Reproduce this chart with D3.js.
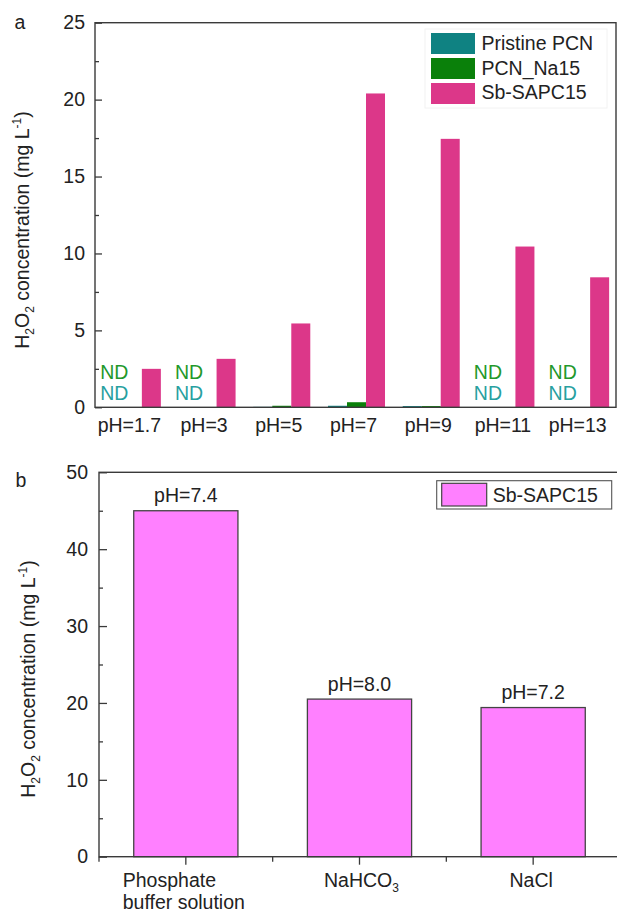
<!DOCTYPE html>
<html>
<head>
<meta charset="utf-8">
<script src="https://cdn.jsdelivr.net/npm/d3@7"></script>
<style>
  html, body { margin: 0; padding: 0; background: #fff; }
  svg { display: block; }
  text { font-family: "Liberation Sans", Arial, sans-serif; fill: #222; }
</style>
</head>
<body>
<svg id="chart" width="617" height="915"></svg>
<script>
// ---- Panel a: H2O2 yield at different pH ----
const phLabels = ["pH=1.7", "pH=3", "pH=5", "pH=7", "pH=9", "pH=11", "pH=13"];
const seriesNames = ["Pristine PCN", "PCN_Na15", "Sb-SAPC15"];
// null = not detected (ND)
const pristinePCN = [null, null, 0.03, 0.1, 0.08, null, null];
const pcnNa15 = [null, null, 0.1, 0.33, 0.08, null, null];
const sbSAPC15 = [2.5, 3.15, 5.45, 20.4, 17.45, 10.45, 8.45];
const yTicksA = [0, 5, 10, 15, 20, 25];
const yMinorA = [2.5, 7.5, 12.5, 17.5, 22.5];

// ---- Panel b: H2O2 yield in different media ----
const media = ["Phosphate buffer solution", "NaHCO3", "NaCl"];
const mediaPH = ["pH=7.4", "pH=8.0", "pH=7.2"];
const sbSAPC15Media = [45.0, 20.5, 19.4];
const yTicksB = [0, 10, 20, 30, 40, 50];
const yMinorB = [5, 15, 25, 35, 45];

const colorsA = ["#0f8282", "#0a800a", "#dc3789"];
const ndColors = ["#27a0a0", "#22982a"];
const fillB = "#ff80ff";
const axisColor = "#3a3a3a";
const FS = 19.5;

const svg = d3.select("#chart");

function yTitle(g, x, cy) {
  const t = g.append("text")
    .attr("transform", `translate(${x},${cy}) rotate(-90)`)
    .attr("text-anchor", "middle")
    .style("font-size", FS + "px");
  t.append("tspan").text("H");
  t.append("tspan").text("2").style("font-size", "12px").attr("dy", 5);
  t.append("tspan").text("O").attr("dy", -5);
  t.append("tspan").text("2").style("font-size", "12px").attr("dy", 5);
  t.append("tspan").text(" concentration (mg L").attr("dy", -5);
  t.append("tspan").text("-1").style("font-size", "12px").attr("dy", -8);
  t.append("tspan").text(")").attr("dy", 8);
}

function styleAxis(g) {
  g.select(".domain").remove();
  g.selectAll("line").attr("stroke", axisColor).attr("stroke-width", 1.3);
  g.selectAll("text").style("font-size", FS + "px").attr("fill", "#222");
}

// ================= Panel a =================
{
  const L = 95, R = 616, T = 22.7, B = 407.3;
  const g = svg.append("g");
  const x0 = d3.scaleBand().domain(phLabels).range([L, 618]).paddingInner(0.237).paddingOuter(0.1185);
  const x1 = d3.scaleBand().domain(seriesNames).range([0, x0.bandwidth()]);
  const y = d3.scaleLinear().domain([0, 25]).range([B, T]);

  const seriesVals = [pristinePCN, pcnNa15, sbSAPC15];

  // bars
  seriesNames.forEach((s, si) => {
    g.append("g").selectAll("rect")
      .data(phLabels.map((p, i) => ({ p, v: seriesVals[si][i] })).filter(d => d.v !== null))
      .join("rect")
      .attr("x", d => x0(d.p) + x1(s))
      .attr("width", x1.bandwidth())
      .attr("y", d => y(d.v))
      .attr("height", d => Math.max(0, y(0) - y(d.v)))
      .attr("fill", colorsA[si]);
  });

  // ND labels for undetected series (teal below, green above)
  phLabels.forEach((p, i) => {
    if (pristinePCN[i] === null) {
      const cx = x0(p) + x1(seriesNames[0]) + x1.bandwidth() / 2 + 1;
      g.append("text").attr("x", cx).attr("y", y(0) - 7.5).attr("text-anchor", "middle")
        .style("font-size", FS + "px").style("fill", ndColors[0]).text("ND");
    }
    if (pcnNa15[i] === null) {
      const cx = x0(p) + x1(seriesNames[0]) + x1.bandwidth() / 2 + 1;
      g.append("text").attr("x", cx).attr("y", y(0) - 28.5).attr("text-anchor", "middle")
        .style("font-size", FS + "px").style("fill", ndColors[1]).text("ND");
    }
  });

  // frame
  g.append("rect").attr("x", L).attr("y", T).attr("width", R - L).attr("height", B - T)
    .attr("fill", "none").attr("stroke", axisColor).attr("stroke-width", 1.4);

  // y axis
  const ya = g.append("g").attr("transform", `translate(${L},0)`)
    .call(d3.axisLeft(y).tickValues(yTicksA).tickSize(-7).tickPadding(10).tickFormat(d3.format("d")));
  styleAxis(ya);
  const ym = g.append("g").attr("transform", `translate(${L},0)`)
    .call(d3.axisLeft(y).tickValues(yMinorA).tickSize(-4).tickFormat(""));
  styleAxis(ym);

  // x labels
  g.append("g").selectAll("text").data(phLabels).join("text")
    .attr("x", d => x0(d) + x0.bandwidth() / 2 - 3)
    .attr("y", 432)
    .attr("text-anchor", "middle")
    .style("font-size", FS + "px")
    .text(d => d);

  yTitle(g, 28.5, 230);

  g.append("text").attr("x", 14.5).attr("y", 29).style("font-size", FS + "px").text("a");

  // legend
  const lg = g.append("g");
  lg.append("rect").attr("x", 425).attr("y", 29).attr("width", 182).attr("height", 79)
    .attr("fill", "#fff").attr("stroke", "#f2f2f2");
  seriesNames.forEach((s, i) => {
    lg.append("rect").attr("x", 431).attr("y", 33 + i * 25).attr("width", 44).attr("height", 21)
      .attr("fill", colorsA[i]);
    lg.append("text").attr("x", 481.5).attr("y", 50 + i * 24.6)
      .style("font-size", FS + "px").text(s);
  });
}

// ================= Panel b =================
{
  const L = 99, R = 620, T = 472.3, B = 856.7;
  const g = svg.append("g");
  const x = d3.scaleBand().domain(media).range([L, R]).paddingInner(0.4).paddingOuter(0.2);
  const y = d3.scaleLinear().domain([0, 50]).range([B, T]);

  const data = media.map((m, i) => ({ m, v: sbSAPC15Media[i], ph: mediaPH[i] }));

  g.append("g").selectAll("rect").data(data).join("rect")
    .attr("x", d => x(d.m))
    .attr("width", x.bandwidth())
    .attr("y", d => y(d.v))
    .attr("height", d => y(0) - y(d.v))
    .attr("fill", fillB)
    .attr("stroke", "#444")
    .attr("stroke-width", 1.3);

  g.append("g").selectAll("text").data(data).join("text")
    .attr("x", d => x(d.m) + x.bandwidth() / 2)
    .attr("y", d => y(d.v) - 8.5)
    .attr("text-anchor", "middle")
    .style("font-size", FS + "px")
    .text(d => d.ph);

  // frame
  g.append("rect").attr("x", L).attr("y", T).attr("width", R - L).attr("height", B - T)
    .attr("fill", "none").attr("stroke", axisColor).attr("stroke-width", 1.4);

  const ya = g.append("g").attr("transform", `translate(${L},0)`)
    .call(d3.axisLeft(y).tickValues(yTicksB).tickSize(-8).tickPadding(11).tickFormat(d3.format("d")));
  styleAxis(ya);
  const ym = g.append("g").attr("transform", `translate(${L},0)`)
    .call(d3.axisLeft(y).tickValues(yMinorB).tickSize(-4).tickFormat(""));
  styleAxis(ym);

  // x ticks: major at category centres, minor at category boundaries
  const xa = g.append("g").attr("transform", `translate(0,${B})`)
    .call(d3.axisBottom(x).tickSize(8).tickFormat(""));
  styleAxis(xa);
  const bounds = media.map(m => x(m) - x.step() * x.paddingInner() / 2 - (m === media[0] ? x.step() * (x.paddingOuter() - x.paddingInner() / 2) : 0));
  g.append("g").selectAll("line").data(bounds).join("line")
    .attr("x1", d => d).attr("x2", d => d)
    .attr("y1", B).attr("y2", B + 5)
    .attr("stroke", axisColor).attr("stroke-width", 1.3);

  // x labels
  const cx = m => x(m) + x.bandwidth() / 2;
  const lab = g.append("g").style("font-size", FS + "px");
  const p1 = lab.append("text").attr("y", 886.7).text("Phosphate");
  const p2 = lab.append("text").attr("y", 909).text("buffer solution");
  const w = Math.max(p1.node().getComputedTextLength(), p2.node().getComputedTextLength());
  p1.attr("x", cx(media[0]) - w / 2 - 2);
  p2.attr("x", cx(media[0]) - w / 2 - 2);
  const t2 = lab.append("text").attr("x", cx(media[1]) + 2).attr("y", 886.7).attr("text-anchor", "middle");
  t2.append("tspan").text("NaHCO");
  t2.append("tspan").text("3").style("font-size", "12px").attr("dy", 5);
  lab.append("text").attr("x", cx(media[2]) - 2).attr("y", 886.7).attr("text-anchor", "middle").text("NaCl");

  yTitle(g, 35, 679);

  g.append("text").attr("x", 15.5).attr("y", 487).style("font-size", FS + "px").text("b");

  // legend
  const lg = g.append("g");
  lg.append("rect").attr("x", 436.7).attr("y", 480.7).attr("width", 175).attr("height", 28.3)
    .attr("fill", "#fff").attr("stroke", "#555").attr("stroke-width", 1.1);
  lg.append("rect").attr("x", 441.7).attr("y", 483.3).attr("width", 45).attr("height", 22.7)
    .attr("fill", fillB).attr("stroke", "#444").attr("stroke-width", 1.2);
  lg.append("text").attr("x", 492.7).attr("y", 501.7).style("font-size", FS + "px").text("Sb-SAPC15");
}
</script>
</body>
</html>
